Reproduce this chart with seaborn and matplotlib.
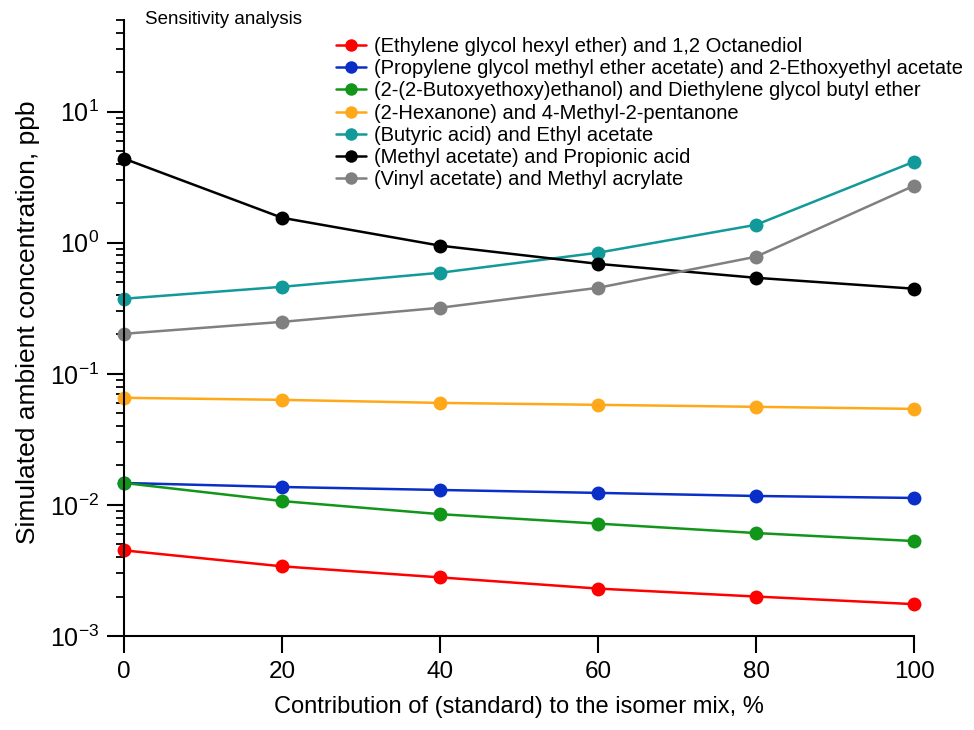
import matplotlib
matplotlib.use("Agg")
import matplotlib.pyplot as plt
import matplotlib.ticker as mticker
import numpy as np
import pandas as pd
import seaborn as sns

# Contribution of the standard compound to the isomer mix (%)
contribution = [0, 20, 40, 60, 80, 100]

pairs = [
    "(Ethylene glycol hexyl ether) and 1,2 Octanediol",
    "(Propylene glycol methyl ether acetate) and 2-Ethoxyethyl acetate",
    "(2-(2-Butoxyethoxy)ethanol) and Diethylene glycol butyl ether",
    "(2-Hexanone) and 4-Methyl-2-pentanone",
    "(Butyric acid) and Ethyl acetate",
    "(Methyl acetate) and Propionic acid",
    "(Vinyl acetate) and Methyl acrylate",
]

# Simulated ambient concentration (ppb) for each pair
hexyl_ether_octanediol = [4.5e-3, 3.4e-3, 2.8e-3, 2.3e-3, 2.0e-3, 1.75e-3]
pgmea_ethoxyethyl = [0.0147, 0.0137, 0.0130, 0.01235, 0.0117, 0.0113]
butoxyethoxy_degbe = [0.0147, 0.0107, 0.0085, 0.0072, 0.0061, 0.0053]
hexanone_mibk = [0.0656, 0.0633, 0.0600, 0.0580, 0.0560, 0.0540]
butyric_ethyl_acetate = [0.374, 0.461, 0.590, 0.839, 1.37, 4.15]
methyl_acetate_propionic = [4.38, 1.55, 0.95, 0.69, 0.54, 0.446]
vinyl_acetate_acrylate = [0.202, 0.249, 0.319, 0.453, 0.782, 2.72]

series = [
    hexyl_ether_octanediol,
    pgmea_ethoxyethyl,
    butoxyethoxy_degbe,
    hexanone_mibk,
    butyric_ethyl_acetate,
    methyl_acetate_propionic,
    vinyl_acetate_acrylate,
]

colors = ["#ff0000", "#0a2ec8", "#12961a", "#ffa91a", "#12999a", "#000000", "#808080"]

df = pd.DataFrame(
    [
        {"pair": p, "contribution": x, "conc": v}
        for p, vals in zip(pairs, series)
        for x, v in zip(contribution, vals)
    ]
)

sns.set_theme(style="ticks")
plt.rcParams["font.family"] = ["Liberation Sans", "DejaVu Sans"]
plt.rcParams["mathtext.fontset"] = "custom"
plt.rcParams["mathtext.rm"] = "Liberation Sans"
plt.rcParams["mathtext.it"] = "Liberation Sans"
plt.rcParams["text.color"] = "black"
plt.rcParams["axes.labelcolor"] = "black"
plt.rcParams["xtick.color"] = "black"
plt.rcParams["ytick.color"] = "black"

fig = plt.figure(figsize=(9.74, 7.30), dpi=100)
ax = fig.add_axes([124 / 974, 94 / 730, 790 / 974, 616 / 730])

sns.lineplot(
    data=df,
    x="contribution",
    y="conc",
    hue="pair",
    hue_order=pairs,
    palette=colors,
    marker="o",
    markersize=10,
    markeredgewidth=0,
    linewidth=1.8,
    ax=ax,
    clip_on=False,
)

ax.set_yscale("log")
ax.set_ylim(1e-3, 50)
ax.set_xlim(0, 100)
ax.set_xticks(contribution)
ax.yaxis.set_major_locator(mticker.LogLocator(base=10, numticks=10))
ax.yaxis.set_minor_locator(mticker.LogLocator(base=10, subs=np.arange(2, 10), numticks=20))
ax.yaxis.set_minor_formatter(mticker.NullFormatter())

for side in ("top", "right"):
    ax.spines[side].set_visible(False)
for side in ("left", "bottom"):
    ax.spines[side].set_linewidth(1.5)
    ax.spines[side].set_color("black")

ax.tick_params(axis="both", which="major", direction="out", length=12, width=1.5,
               colors="black", pad=6)
ax.tick_params(axis="x", which="major", labelsize=17.5)
ax.tick_params(axis="y", which="major", labelsize=18)
ax.tick_params(axis="y", which="minor", direction="out", length=6, width=1.3, colors="black")

ax.set_xlabel("Contribution of (standard) to the isomer mix, %", fontsize=17, labelpad=9)
ax.set_ylabel("Simulated ambient concentration, ppb", fontsize=19, labelpad=8)
ax.yaxis.set_label_coords(-0.106, 0.51)

ax.text(145 / 974, 1 - 20 / 730, "Sensitivity analysis", transform=fig.transFigure,
        fontsize=13.5, ha="left", va="center", color="black")

leg = ax.legend(
    loc="upper left",
    bbox_to_anchor=(328 / 974, 1 - 29 / 730),
    bbox_transform=fig.transFigure,
    frameon=False,
    fontsize=14.5,
    handlelength=1.5,
    handletextpad=0.4,
    labelspacing=0.16,
    borderaxespad=0,
    title=None,
)
for t in leg.get_texts():
    t.set_color("black")
for h in leg.legend_handles:
    h.set_markersize(9)
    h.set_linewidth(1.8)

fig.savefig("out.png", dpi=100, facecolor="white")
